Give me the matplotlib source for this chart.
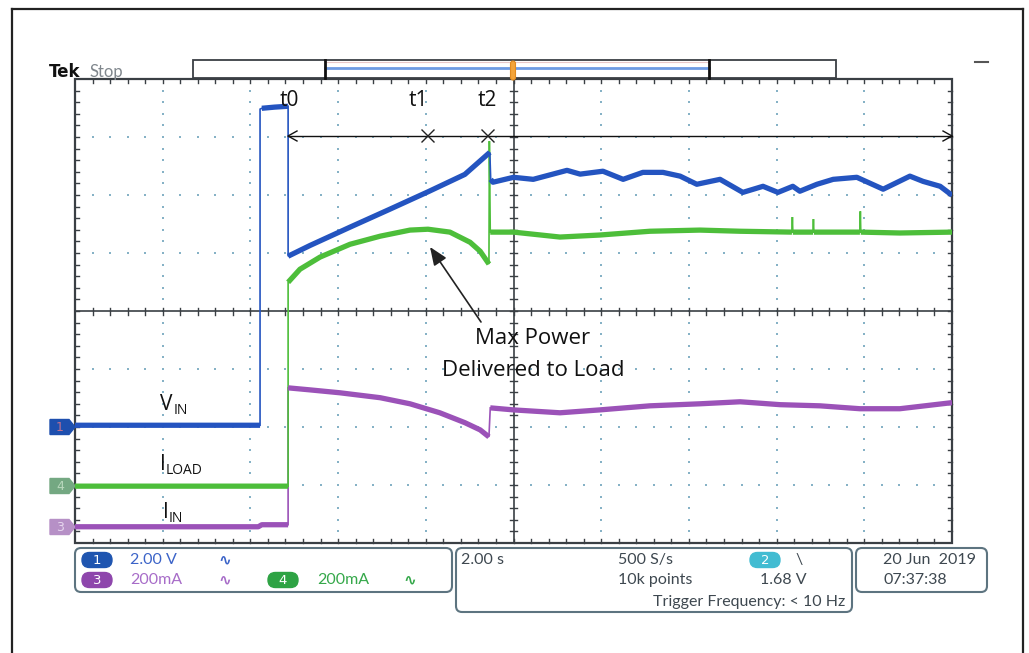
import numpy as np
import matplotlib
matplotlib.use("Agg")
import matplotlib.pyplot as plt
from matplotlib.patches import Polygon, FancyBboxPatch, Rectangle

# ---------------- data (time in s, trigger at 0; 2 s/div) ----------------
t_vin = [-10.0, -5.78, -5.78, -5.74, -5.45, -5.14, -5.14, -4.64, -3.73, -2.82, -1.95, -1.11,
         -0.54, -0.52, -0.47, 0.0, 0.45, 1.22, 1.52, 2.04, 2.50, 2.95, 3.41, 3.80, 4.18,
         4.71, 5.23, 5.69, 6.03, 6.37, 6.53, 6.92, 7.29, 7.83, 8.43, 9.04, 9.34, 9.73, 10.0]
v_in = [0.0, 0.0, 10.9, 10.93, 10.97, 11.0, 5.83, 6.2, 6.83, 7.45, 8.05, 8.65,
        9.41, 8.48, 8.38, 8.55, 8.48, 8.79, 8.66, 8.76, 8.48, 8.72, 8.72, 8.59, 8.31,
        8.48, 8.03, 8.24, 8.03, 8.24, 8.07, 8.31, 8.48, 8.55, 8.14, 8.59, 8.41, 8.24, 7.93]

t_iload = [-10.0, -5.14, -5.14, -4.87, -4.41, -3.73, -3.04, -2.36, -1.95, -1.45, -0.99,
           -0.76, -0.56, -0.55, -0.53, 0.0, 1.06, 1.97, 3.11, 4.25, 5.17, 6.35, 6.36, 6.37,
           6.83, 6.84, 6.85, 7.90, 7.91, 7.92, 8.81, 10.0]
i_load = [0, 0, 703, 748, 790, 834, 862, 883, 886, 876, 841,
          810, 766, 1190, 876, 876, 859, 866, 879, 883, 879, 876, 928, 876,
          876, 921, 876, 876, 948, 876, 873, 876]

t_iin = [-10.0, -5.82, -5.74, -5.14, -5.14, -4.64, -3.96, -3.04, -2.36, -1.68, -1.11,
         -0.76, -0.56, -0.53, 0.0, 1.06, 1.97, 3.11, 4.25, 5.17, 6.08, 6.99, 7.90, 8.81, 10.0]
i_in = [0, 0, 7, 7, 479, 472, 462, 445, 424, 393, 359,
        334, 310, 410, 403, 393, 403, 417, 424, 431, 421, 417, 407, 407, 428]

# channel settings
ch_names = ["V", "I", "I"]
ch_subs = ["IN", "LOAD", "IN"]
scale_vin = 2.0      # V/div
scale_i = 200.0      # mA/div
offset_vin = -1.97   # div
offset_iload = -3.02
offset_iin = -3.72

# ---------------- geometry ----------------
W, H = 1029, 653
L, R, T, B = 75, 952, 79, 543
DX = (R - L) / 10.0
DY = (B - T) / 8.0

fig = plt.figure(figsize=(W / 100, H / 100), dpi=100)
fig.patch.set_facecolor("white")
bg = fig.add_axes([0, 0, 1, 1])
bg.set_xlim(0, W)
bg.set_ylim(H, 0)
bg.axis("off")

GRID = "#86b2c6"
DARK = "#3a3f44"

# dotted graticule
for k in range(1, 10):
    if k == 5:
        continue
    x = L + k * DX
    ys = T + np.arange(1, 40) * DY / 5
    bg.scatter(np.full_like(ys, x), ys, s=4, color=GRID, marker="s", lw=0, zorder=1)
for j in range(1, 8):
    if j == 4:
        continue
    y = T + j * DY
    xs = L + np.arange(1, 50) * DX / 5
    bg.scatter(xs, np.full_like(xs, y), s=4, color=GRID, marker="s", lw=0, zorder=1)

# center lines with ticks
cx, cy = L + 5 * DX, T + 4 * DY
bg.plot([L, R], [cy, cy], color=DARK, lw=1.2, zorder=2)
bg.plot([cx, cx], [T, B], color=DARK, lw=1.2, zorder=2)
for i in range(1, 50):
    x = L + i * DX / 5
    bg.plot([x, x], [cy - 3.5, cy + 3.5], color=DARK, lw=1, zorder=2)
for j in range(1, 40):
    y = T + j * DY / 5
    bg.plot([cx - 3.5, cx + 3.5], [y, y], color=DARK, lw=1, zorder=2)

# border with inward ticks
bg.add_patch(Rectangle((L, T), R - L, B - T, fill=False, ec=DARK, lw=1.6, zorder=3))
for i in range(1, 50):
    x = L + i * DX / 5
    bg.plot([x, x], [T, T + 4], color=DARK, lw=1, zorder=3)
    bg.plot([x, x], [B, B - 4], color=DARK, lw=1, zorder=3)
for j in range(1, 40):
    y = T + j * DY / 5
    bg.plot([L, L + 4], [y, y], color=DARK, lw=1, zorder=3)
    bg.plot([R, R - 4], [y, y], color=DARK, lw=1, zorder=3)

# outer frame
bg.plot([12, 12], [9, H], color="#222222", lw=1.6)
bg.plot([12, 1023], [9, 9], color="#222222", lw=1.6)
bg.plot([1023, 1023], [9, H], color="#222222", lw=1.6)

# top bar
bg.text(49, 77, "Tek", fontsize=12, fontweight="bold", color="#111111",
        family="DejaVu Sans", ha="left", va="baseline")
bg.text(89, 77, "Stop", fontsize=12, color="#80878d", family="Lato",
        ha="left", va="baseline")
bg.add_patch(Rectangle((193, 60), 836 - 193, 18, fill=True, fc="white", ec=DARK, lw=1.3, zorder=4))
bg.plot([325, 709], [68, 68], color="#6d9be3", lw=2.0, zorder=5)
bg.plot([325, 709], [62, 62], color="#e8c8c8", lw=0.8, zorder=5)
bg.plot([325, 325], [60, 78], color="#111111", lw=2.0, zorder=6)
bg.plot([709, 709], [60, 78], color="#111111", lw=2.0, zorder=6)
bg.add_patch(FancyBboxPatch((510.5, 61), 5, 19, boxstyle="round,pad=0,rounding_size=2.5",
                            fc="#f3a43a", ec="#e08a20", lw=0.8, zorder=7))
bg.plot([975, 988], [62, 62], color="#555555", lw=1.5)

# channel markers
def marker(y, fc, tc, label):
    pts = [(50, y - 7.5), (69, y - 7.5), (75, y), (69, y + 7.5), (50, y + 7.5)]
    bg.add_patch(Polygon(pts, closed=True, fc=fc, ec=fc, lw=1, zorder=6))
    bg.text(60, y + 0.5, label, fontsize=9, color=tc, ha="center", va="center", zorder=7)

marker(427, "#1e4fae", "#c07090", "1")
marker(486, "#74a882", "#b9d8bd", "4")
marker(527, "#b690c6", "#e6d6ee", "3")

# ---------------- traces ----------------
ax = fig.add_axes([L / W, (H - B) / H, (R - L) / W, (B - T) / H])
ax.set_xlim(-10, 10)
ax.set_ylim(-4, 4)
ax.patch.set_alpha(0)
ax.axis("off")


def draw(t, vals, scale, offset, color):
    t = np.asarray(t, float)
    y = np.asarray(vals, float) / scale + offset
    ax.plot(t, y, color=color, lw=1.2, zorder=3, solid_joinstyle="miter")
    tt, yy = [t[0]], [y[0]]
    for i in range(1, len(t)):
        if t[i] - t[i - 1] < 0.05:
            tt.append(np.nan)
            yy.append(np.nan)
        tt.append(t[i])
        yy.append(y[i])
    ax.plot(tt, yy, color=color, lw=3.8, zorder=4, solid_capstyle="butt")


draw(t_iin, i_in, scale_i, offset_iin, "#9b52b8")
draw(t_iload, i_load, scale_i, offset_iload, "#4dbe3a")
draw(t_vin, v_in, scale_vin, offset_vin, "#2454c0")

# ---------------- annotations ----------------
ov = fig.add_axes([0, 0, 1, 1])
ov.set_xlim(0, W)
ov.set_ylim(H, 0)
ov.axis("off")
ov.patch.set_alpha(0)

AF = "Open Sans"
for x, s in [(289, "t0"), (418, "t1"), (487, "t2")]:
    ov.text(x, 101, s, fontsize=15, family=AF, ha="center", va="center", color="#111111")

ov.plot([288, 952], [136, 136], color="#111111", lw=1.0)
ov.plot([297, 288, 297], [131, 136, 141], color="#111111", lw=1.0)
ov.plot([943, 952, 943], [131, 136, 141], color="#111111", lw=1.0)
for x in [428, 488]:
    ov.plot([x - 6, x + 6], [130, 142], color="#222222", lw=1.0)
    ov.plot([x - 6, x + 6], [142, 130], color="#222222", lw=1.0)

ov.annotate("", xy=(430, 247), xytext=(481, 322),
            arrowprops=dict(arrowstyle="-|>,head_length=1.1,head_width=0.45",
                            color="#222222", lw=1.2, shrinkA=0, shrinkB=0))
ov.text(533, 338, "Max Power", fontsize=16, family=AF, ha="center", va="center", color="#111111")
ov.text(533, 370, "Delivered to Load", fontsize=16, family=AF, ha="center", va="center", color="#111111")

# channel labels
ov.text(160, 405, ch_names[0], fontsize=15, family=AF, ha="left", va="center", color="#111111")
ov.text(174, 410, ch_subs[0], fontsize=10, family=AF, ha="left", va="center", color="#111111")
ov.text(160, 465, ch_names[1], fontsize=15, family=AF, ha="left", va="center", color="#111111")
ov.text(166, 470, ch_subs[1], fontsize=10, family=AF, ha="left", va="center", color="#111111")
ov.text(163, 512, ch_names[2], fontsize=15, family=AF, ha="left", va="center", color="#111111")
ov.text(169, 518, ch_subs[2], fontsize=10, family=AF, ha="left", va="center", color="#111111")

# ---------------- info boxes ----------------
BOXC = "#5d7480"
def box(x0, y0, x1, y1):
    ov.add_patch(FancyBboxPatch((x0, y0), x1 - x0, y1 - y0,
                                boxstyle="round,pad=0,rounding_size=6",
                                fc="white", ec=BOXC, lw=1.5))

box(75, 548, 452, 592)
box(456, 548, 852, 612)
box(856, 548, 987, 592)

def pill(x0, yc, fc, label):
    ov.add_patch(FancyBboxPatch((x0, yc - 7.5), 30, 15,
                                boxstyle="round,pad=0,rounding_size=7.5",
                                fc=fc, ec=fc, lw=1))
    ov.text(x0 + 15, yc + 0.5, label, fontsize=9.5, color="white", ha="center", va="center")

pill(82, 560, "#1f55b0", "1")
pill(82, 580, "#8e46ac", "3")
pill(268, 580, "#2ea344", "4")
pill(750, 560, "#42bcd2", "2")

SF = ["Lato", "DejaVu Sans"]
SZ = 11.5
ov.text(130, 560, "2.00 V", fontsize=SZ, family=SF, color="#3b63c8", va="center")
ov.text(218, 560, "∿", fontsize=11, fontweight="bold", family="DejaVu Sans", color="#3b63c8", va="center")
ov.text(130, 580, "200mA", fontsize=SZ, family=SF, color="#a76cc8", va="center")
ov.text(218, 580, "∿", fontsize=11, fontweight="bold", family="DejaVu Sans", color="#a76cc8", va="center")
ov.text(317, 580, "200mA", fontsize=SZ, family=SF, color="#35a84a", va="center")
ov.text(403, 580, "∿", fontsize=11, fontweight="bold", family="DejaVu Sans", color="#35a84a", va="center")

TC = "#3e4850"
ov.text(461, 560, "2.00 s", fontsize=SZ, family=SF, color=TC, va="center")
ov.text(618, 560, "500 S/s", fontsize=SZ, family=SF, color=TC, va="center")
ov.text(618, 580, "10k points", fontsize=SZ, family=SF, color=TC, va="center")
ov.text(795, 560, "\\", fontsize=SZ, family=SF, color=TC, va="center")
ov.text(760, 580, "1.68 V", fontsize=SZ, family=SF, color=TC, va="center")
ov.text(653, 602, "Trigger Frequency: < 10 Hz", fontsize=SZ, family=SF, color=TC, va="center")
ov.text(883, 560, "20 Jun  2019", fontsize=SZ, family=SF, color=TC, va="center")
ov.text(883, 580, "07:37:38", fontsize=SZ, family=SF, color=TC, va="center")

fig.savefig("out.png", dpi=100, facecolor="white")
